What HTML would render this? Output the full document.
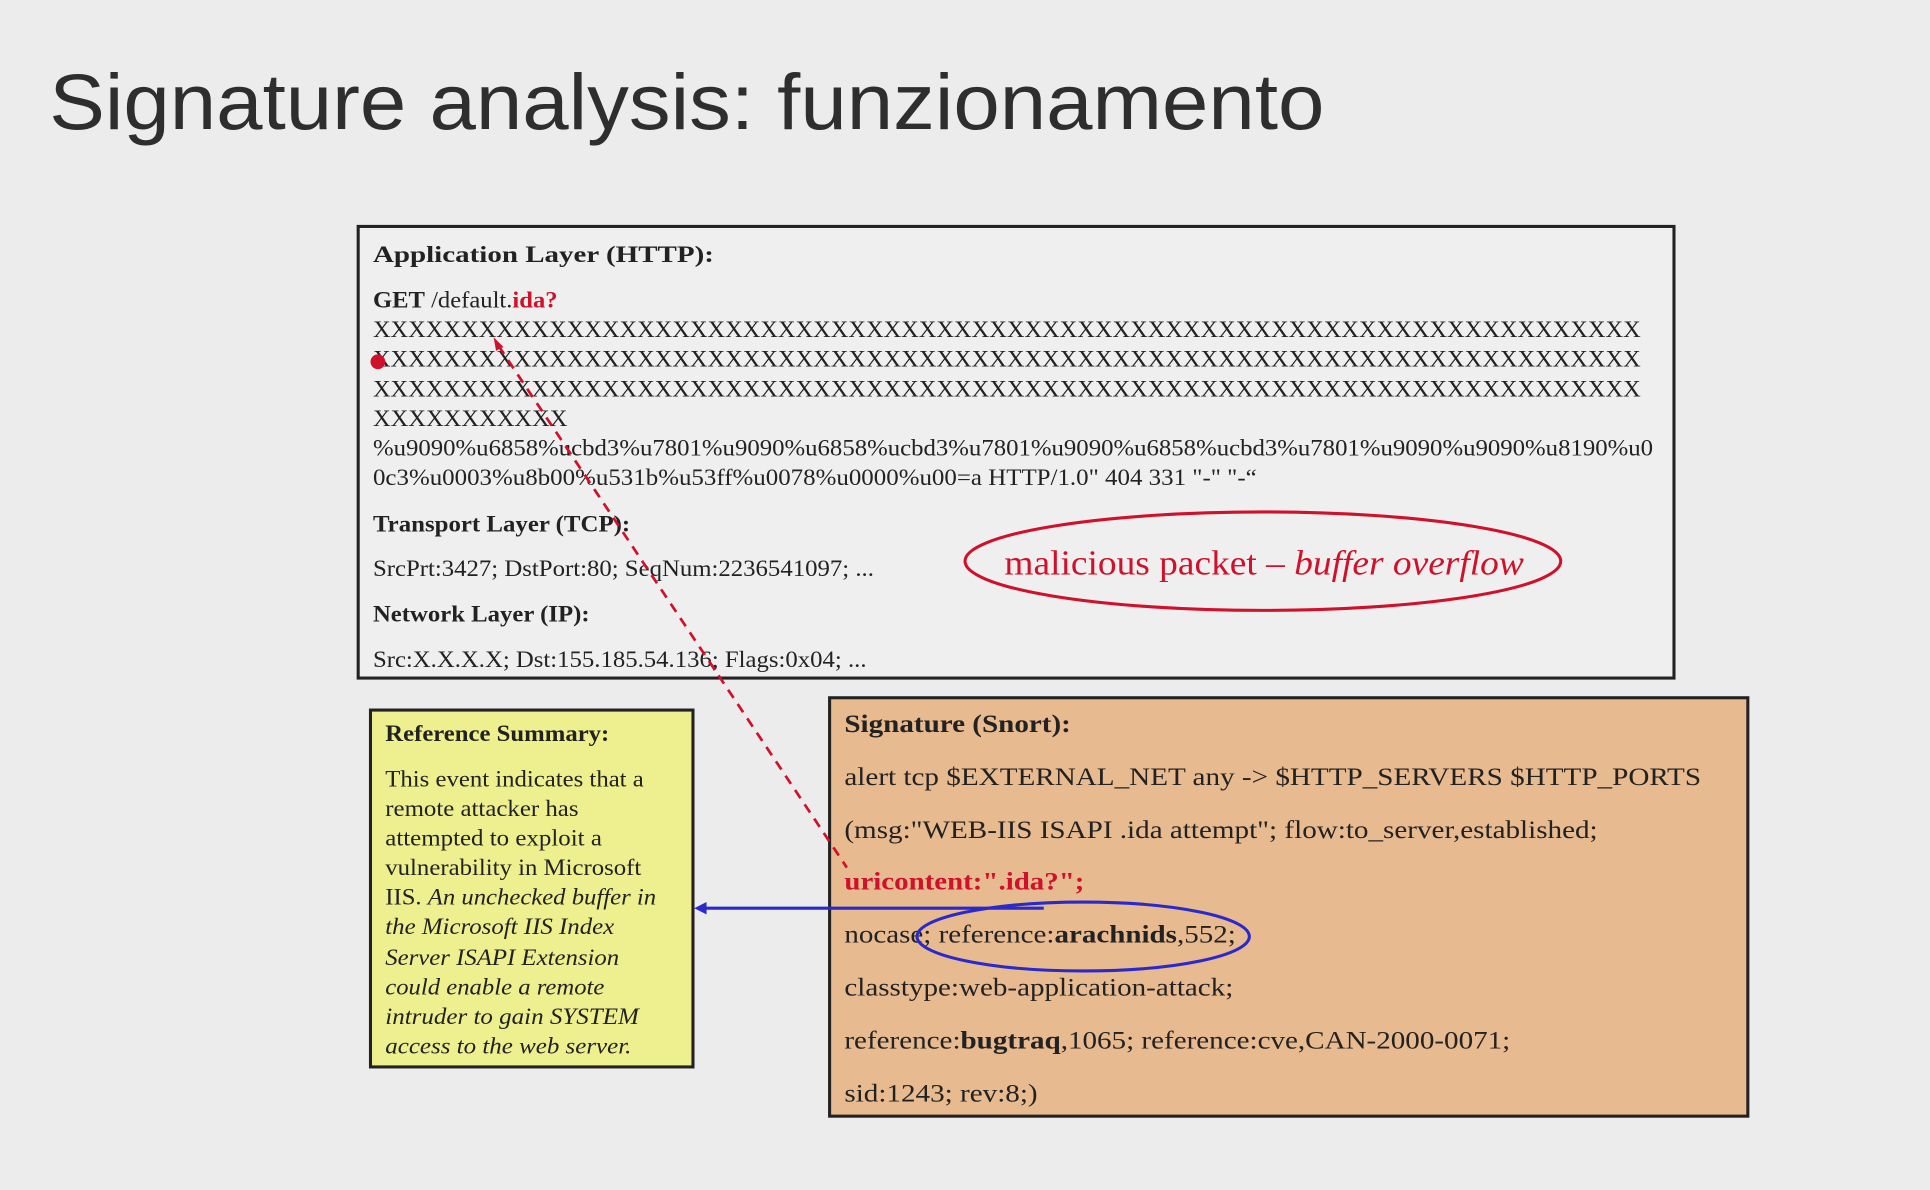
<!DOCTYPE html>
<html><head><meta charset="utf-8"><style>
html,body{margin:0;padding:0;background:#ececec;width:1930px;height:1190px;overflow:hidden}
svg{display:block}
.s{font-family:"Liberation Serif",serif;fill:#222;font-size:19px}
.b{font-weight:bold}
</style></head><body>
<svg width="1930" height="1190" viewBox="0 0 1568 967" preserveAspectRatio="none" xmlns="http://www.w3.org/2000/svg">
<rect width="1568" height="967" fill="#ececec"/>
<text x="40" y="105" font-family="Liberation Sans, sans-serif" font-size="64" fill="#2e2e2e" textLength="1036" lengthAdjust="spacingAndGlyphs">Signature analysis: funzionamento</text>

<rect x="291" y="184" width="1069" height="367" fill="#efefef" stroke="#222" stroke-width="2.5"/>
<g class="s">
<text x="303" y="213" class="b" textLength="277" lengthAdjust="spacingAndGlyphs">Application Layer (HTTP):</text>
<text x="303" y="250" textLength="150" lengthAdjust="spacingAndGlyphs"><tspan font-weight="bold">GET</tspan> /default.<tspan fill="#d0112b" font-weight="bold">ida?</tspan></text>
<text x="303" y="274" textLength="1030" lengthAdjust="spacingAndGlyphs">XXXXXXXXXXXXXXXXXXXXXXXXXXXXXXXXXXXXXXXXXXXXXXXXXXXXXXXXXXXXXXXXXXXXXXXX</text>
<text x="303" y="298" textLength="1030" lengthAdjust="spacingAndGlyphs">XXXXXXXXXXXXXXXXXXXXXXXXXXXXXXXXXXXXXXXXXXXXXXXXXXXXXXXXXXXXXXXXXXXXXXXX</text>
<text x="303" y="322" textLength="1030" lengthAdjust="spacingAndGlyphs">XXXXXXXXXXXXXXXXXXXXXXXXXXXXXXXXXXXXXXXXXXXXXXXXXXXXXXXXXXXXXXXXXXXXXXXX</text>
<text x="303" y="346" textLength="158" lengthAdjust="spacingAndGlyphs">XXXXXXXXXXX</text>
<text x="303" y="370" textLength="1040" lengthAdjust="spacingAndGlyphs">%u9090%u6858%ucbd3%u7801%u9090%u6858%ucbd3%u7801%u9090%u6858%ucbd3%u7801%u9090%u9090%u8190%u0</text>
<text x="303" y="394" textLength="718" lengthAdjust="spacingAndGlyphs">0c3%u0003%u8b00%u531b%u53ff%u0078%u0000%u00=a  HTTP/1.0" 404 331 "-" "-“</text>
<text x="303" y="432" class="b" textLength="209" lengthAdjust="spacingAndGlyphs">Transport Layer (TCP):</text>
<text x="303" y="468" textLength="407" lengthAdjust="spacingAndGlyphs">SrcPrt:3427; DstPort:80; SeqNum:2236541097; ...</text>
<text x="303" y="505" class="b" textLength="176" lengthAdjust="spacingAndGlyphs">Network Layer (IP):</text>
<text x="303" y="542" textLength="401" lengthAdjust="spacingAndGlyphs">Src:X.X.X.X; Dst:155.185.54.136; Flags:0x04; ...</text>
</g>
<ellipse cx="1026" cy="456" rx="242" ry="40" fill="none" stroke="#d0112b" stroke-width="2.5"/>
<text x="816" y="467" font-family="Liberation Serif, serif" font-size="28" fill="#d0112b" textLength="422" lengthAdjust="spacingAndGlyphs">malicious packet – <tspan font-style="italic">buffer overflow</tspan></text>

<rect x="301" y="577" width="262" height="290" fill="#eef08f" stroke="#222" stroke-width="2.5"/>
<g class="s">
<text x="313" y="602" class="b" textLength="182" lengthAdjust="spacingAndGlyphs">Reference Summary:</text>
<text x="313" y="639" textLength="210" lengthAdjust="spacingAndGlyphs">This event indicates that a</text>
<text x="313" y="663" textLength="157" lengthAdjust="spacingAndGlyphs">remote attacker has</text>
<text x="313" y="687" textLength="176" lengthAdjust="spacingAndGlyphs">attempted to exploit a</text>
<text x="313" y="711" textLength="208" lengthAdjust="spacingAndGlyphs">vulnerability in Microsoft</text>
<text x="313" y="735" textLength="220" lengthAdjust="spacingAndGlyphs">IIS. <tspan font-style="italic">An unchecked buffer in</tspan></text>
<text x="313" y="759" font-style="italic" textLength="186" lengthAdjust="spacingAndGlyphs">the Microsoft IIS Index</text>
<text x="313" y="784" font-style="italic" textLength="190" lengthAdjust="spacingAndGlyphs">Server ISAPI Extension</text>
<text x="313" y="808" font-style="italic" textLength="178" lengthAdjust="spacingAndGlyphs">could enable a remote</text>
<text x="313" y="832" font-style="italic" textLength="206" lengthAdjust="spacingAndGlyphs">intruder to gain SYSTEM</text>
<text x="313" y="856" font-style="italic" textLength="200" lengthAdjust="spacingAndGlyphs">access to the web server.</text>
</g>

<rect x="674" y="567" width="746" height="340" fill="#e8ba90" stroke="#222" stroke-width="2.5"/>
<g class="s" style="font-size:21px">
<text x="686" y="595" class="b" textLength="184" lengthAdjust="spacingAndGlyphs">Signature (Snort):</text>
<text x="686" y="638" textLength="696" lengthAdjust="spacingAndGlyphs">alert tcp $EXTERNAL_NET any -&gt; $HTTP_SERVERS $HTTP_PORTS</text>
<text x="686" y="681" textLength="612" lengthAdjust="spacingAndGlyphs">(msg:"WEB-IIS ISAPI .ida attempt"; flow:to_server,established;</text>
<text x="686" y="723" class="b" fill="#d0112b" textLength="195" lengthAdjust="spacingAndGlyphs">uricontent:".ida?";</text>
<text x="686" y="766" textLength="318" lengthAdjust="spacingAndGlyphs">nocase; reference:<tspan font-weight="bold">arachnids</tspan>,552;</text>
<text x="686" y="809" textLength="316" lengthAdjust="spacingAndGlyphs">classtype:web-application-attack;</text>
<text x="686" y="852" textLength="541" lengthAdjust="spacingAndGlyphs">reference:<tspan font-weight="bold">bugtraq</tspan>,1065; reference:cve,CAN-2000-0071;</text>
<text x="686" y="895" textLength="157" lengthAdjust="spacingAndGlyphs">sid:1243; rev:8;)</text>
</g>
<ellipse cx="880" cy="761" rx="135" ry="28" fill="none" stroke="#2a2acc" stroke-width="2.5"/>
<line x1="848" y1="738" x2="572" y2="738" stroke="#2a2acc" stroke-width="2.5"/>
<polygon points="564,738 574,733 574,743" fill="#2a2acc"/>

<line x1="405" y1="281" x2="688" y2="705" stroke="#d0112b" stroke-width="2.2" stroke-dasharray="8,6"/>
<polygon points="401,274 409,282 403,285" fill="#d0112b"/>
<circle cx="307" cy="294" r="6" fill="#d0112b"/>
</svg>
</body></html>
